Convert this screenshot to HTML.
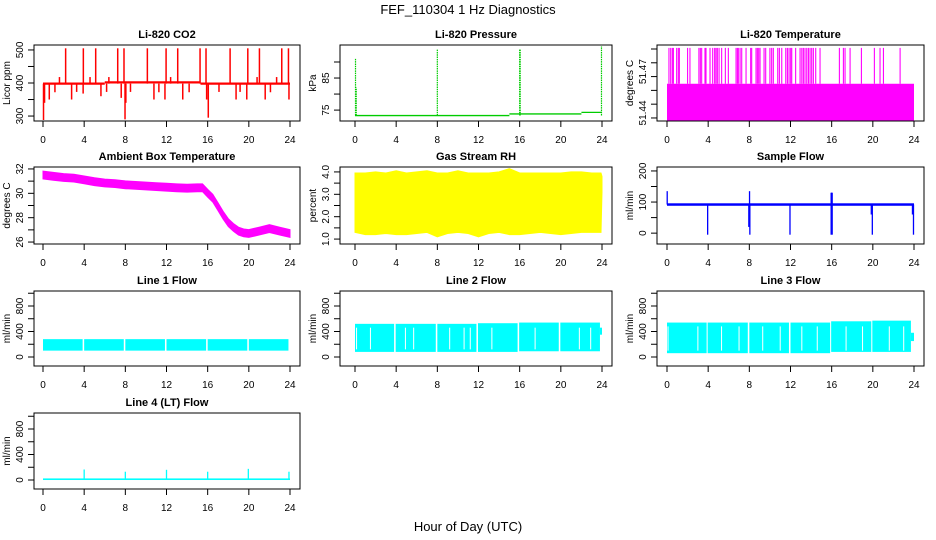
<!DOCTYPE html>
<html><head><meta charset="utf-8">
<style>
html,body{margin:0;padding:0;background:#fff;}
svg{display:block;font-family:"Liberation Sans",Arial,sans-serif;}
</style></head>
<body>
<svg id="chart" width="936" height="540" viewBox="0 0 936 540" xmlns="http://www.w3.org/2000/svg">
<text x="468" y="14" text-anchor="middle" font-size="13">FEF_110304  1 Hz Diagnostics</text>
<text x="468" y="531" text-anchor="middle" font-size="13">Hour of Day (UTC)</text>
</svg>
<script>
// ---------- data ----------
const xTicks=[0,4,8,12,16,20,24];
// CO2
const co2Base=[[0,6,398],[6,15.3,402],[15.3,24,398]];
const co2UpHours=[2.2,3.92,5.12,7.26,7.87,10.14,11.96,13.09,15.26,15.84,18.18,19.9,21.03,23.2,23.85];
const co2UpValue=505;
const co2SmallHours=[1.6,4.57,6.4,12.4,20.8,22.7];
const co2SmallValue=418;
const co2DownHours=[0.05,0.15,0.61,1.16,2.78,3.27,3.9,5.63,6.18,7.6,7.97,8.05,8.5,10.78,11.26,11.85,13.58,14.2,15.9,16.06,17.1,18.76,19.15,19.8,21.59,22.1,23.9];
const co2DownValues=[288,340,350,372,350,373,368,360,373,355,290,340,373,350,372,350,350,372,350,295,373,350,373,350,350,372,350];
// Pressure
const presBase=[[0,15,73.3],[15,22,73.8],[22,24,74.3]];
const presSpikeHours=[0.05,0.12,8.0,16.0,16.05,23.95];
const presSpikeValues=[91,82,94,94,94,95];
// Li-820 temperature
const tempBase=51.4378, tempTop=51.4648, tempSpikeValue=51.4908;
const tempSpikeHours=[0.19,0.36,0.52,0.62,0.94,1.1,1.2,2.0,2.23,3.1,3.24,3.37,3.69,3.79,4.18,4.44,4.63,4.76,4.89,5.06,5.31,5.67,5.96,6.71,6.84,6.93,7.1,7.26,7.68,8.13,8.23,8.65,8.78,8.91,9.04,9.43,9.59,10.0,10.17,10.33,10.76,10.92,11.15,11.54,11.7,11.86,12.02,12.12,12.5,12.93,13.1,13.25,13.41,13.58,13.74,13.9,14.06,14.22,14.45,14.87,16.75,17.14,17.3,17.79,18.89,20.15,20.7,21.03,22.65];
// Ambient box temperature
const ambHours=[0,1,2,3,4,5,6,7,8,9,10,11,12,13,14,15,15.5,16,16.5,17,17.5,18,18.5,19,19.5,20,21,22,23,24];
const ambMean=[31.5,31.4,31.3,31.25,31.1,30.95,30.85,30.8,30.7,30.65,30.6,30.55,30.5,30.45,30.42,30.45,30.45,30.0,29.6,28.9,28.2,27.6,27.2,26.9,26.75,26.7,26.9,27.1,26.9,26.7];
const ambSpread=0.32;
// Gas stream RH
const rhHours=[0,1,2,3,4,5,6,7,8,9,10,11,12,13,14,15,16,17,18,19,20,21,22,23,23.9,24];
const rhLow=[1.3,1.2,1.2,1.25,1.2,1.2,1.25,1.3,1.1,1.25,1.3,1.25,1.1,1.25,1.3,1.2,1.2,1.25,1.3,1.25,1.2,1.25,1.3,1.3,1.3,3.1];
const rhHigh=[3.95,3.95,4.0,3.95,4.05,3.95,4.0,4.05,3.95,3.95,4.05,3.95,3.95,3.95,4.0,4.15,3.95,3.95,3.95,3.95,3.95,4.0,4.0,3.95,3.95,3.8];
// Sample flow
const sfBase=[88,96];
const sfUpHours=[0.02,8.02,15.95,16.0,16.05];
const sfUpValues=[135,135,130,130,130];
const sfDownHours=[3.95,7.95,8.05,11.95,15.95,16.05,19.85,19.95,23.85,23.95];
const sfDownValues=[-5,20,-5,-5,-5,-5,60,-5,60,-5];
// Line flows: blocks [startHour,endHour,low,high]
const l1Blocks=[[0,3.85,100,280],[4.0,7.85,100,280],[8.0,11.85,100,280],[12.0,15.85,100,280],[16.0,19.85,100,280],[20.0,23.85,100,280]];
const l2Blocks=[[0,3.8,80,520],[3.95,7.85,80,520],[8.0,11.8,80,520],[11.95,15.8,80,530],[15.95,19.8,90,540],[19.95,23.8,90,540],[23.8,24,350,460]];
const l2Gaps=[0.15,1.5,4.9,5.7,9.2,10.6,11.2,13.3,17.5,21.8,22.9];
const l3Blocks=[[0,3.85,60,540],[3.95,7.85,60,540],[8.0,11.85,60,540],[12.0,15.85,60,540],[15.95,19.85,80,560],[19.95,23.7,80,570],[23.7,24,250,380]];
const l3Gaps=[0.1,3.0,5.3,7.0,9.3,11.0,13.1,14.6,17.4,19.0,21.6,23.0];
// Line 4
const l4Base=[0,25];
const l4SpikeHours=[4.0,8.0,12.0,16.0,19.95,23.9];
const l4SpikeValues=[165,130,160,130,175,130];

// ---------- layout ----------
const cols=[{l:34,r:300,x0:43,x24:290},{l:340,r:612,x0:355,x24:602},{l:657,r:924,x0:667,x24:914}];
const rows=[{t:45,b:121},{t:167,b:244},{t:291,b:366},{t:413,b:489}];
const NS="http://www.w3.org/2000/svg";
const svg=document.getElementById('chart');
function mk(tag,attrs,parent,text){const e=document.createElementNS(NS,tag);for(const k in attrs)e.setAttribute(k,attrs[k]);if(text!==undefined)e.textContent=text;(parent||svg).appendChild(e);return e;}

function panel(key,ci,ri,title,ylab,dom,ticks,labels,labelShift,fmt){
  const c=cols[ci],r=rows[ri];
  const g=mk('g',{});
  
  
  const sx=h=>c.x0+h/24*(c.x24-c.x0);
  const sy=v=>r.b-(v-dom[0])/(dom[1]-dom[0])*(r.b-r.t);
  const marks=mk('g',{},g);
  
  
  const box=mk('rect',{x:c.l,y:r.t,width:c.r-c.l,height:r.b-r.t,fill:'none',stroke:'#000','stroke-width':1},g);
  
  
  const t=mk('text',{x:(c.l+c.r)/2,y:r.t-7,'text-anchor':'middle','font-size':11,'font-weight':'bold'},g,title);
  
  
  const xa=mk('g',{},g);
  
  
  mk('line',{x1:sx(0),x2:sx(24),y1:r.b,y2:r.b,stroke:'#000'},xa);
  xTicks.forEach(h=>{
    mk('line',{x1:sx(h),x2:sx(h),y1:r.b,y2:r.b+6,stroke:'#000'},xa);
    const tl=mk('text',{x:sx(h),y:r.b+22,'text-anchor':'middle','font-size':10},xa,String(h));
    
    
  });
  const ya=mk('g',{},g);
  
  
  mk('line',{x1:c.l,x2:c.l,y1:sy(ticks[0]),y2:sy(ticks[ticks.length-1]),stroke:'#000'},ya);
  ticks.forEach(v=>mk('line',{x1:c.l-6,x2:c.l,y1:sy(v),y2:sy(v),stroke:'#000'},ya));
  labels.forEach(v=>{
    const yy=sy(v)-(labelShift||0), xx=c.l-11;
    const tl=mk('text',{x:xx,y:yy,'text-anchor':'middle','font-size':10,transform:`rotate(-90 ${xx} ${yy})`},ya,
      fmt?v.toFixed(fmt):String(v));
    
    
  });
  const yx=c.l-24, yy=(r.t+r.b)/2;
  const yl=mk('text',{x:yx,y:yy,'text-anchor':'middle','font-size':10,transform:`rotate(-90 ${yx} ${yy})`},g,ylab);
  
  
  return {g:marks,sx,sy};
}
function vline(p,h,v1,v2,col,w){return mk('line',{x1:p.sx(h),x2:p.sx(h),y1:p.sy(v1),y2:p.sy(v2),stroke:col,'stroke-width':w||1.2},p.g);}
function hseg(p,h1,h2,v,col,w){return mk('line',{x1:p.sx(h1),x2:p.sx(h2),y1:p.sy(v),y2:p.sy(v),stroke:col,'stroke-width':w||2},p.g);}
function rectv(p,h1,h2,lo,hi,col){return mk('rect',{x:p.sx(h1),y:p.sy(hi),width:p.sx(h2)-p.sx(h1),height:p.sy(lo)-p.sy(hi),fill:col},p.g);}

// CO2
(function(){
  const p=panel('co2',0,0,'Li-820 CO2','Licor ppm',[285,515],[300,350,400,450,500],[300,400,500]);
  const col='#ff0000';
  co2Base.forEach(b=>hseg(p,b[0],b[1],b[2],col,2.2));
  co2UpHours.forEach(h=>vline(p,h,398,co2UpValue,col,1.5));
  co2SmallHours.forEach(h=>vline(p,h,398,co2SmallValue,col,1.5));
  co2DownHours.forEach((h,i)=>vline(p,h,398,co2DownValues[i],col,1.5));
})();
// Pressure
(function(){
  const p=panel('pressure',1,0,'Li-820 Pressure','kPa',[71.6,95.3],[75,80,85,90],[75,85]);
  const col='#00cc00';
  presBase.forEach(b=>hseg(p,b[0],b[1],b[2],col,1.3));
  presSpikeHours.forEach((h,i)=>{const l=vline(p,h,73.3,presSpikeValues[i],col,1.2);l.setAttribute('stroke-dasharray','1.5 0.8');});
})();
// Li-820 temperature
(function(){
  const ticks=[51.44,51.45,51.46,51.47,51.48,51.49];
  const p=panel('li820-temp',2,0,'Li-820 Temperature','degrees C',[51.4378,51.4929],ticks,[51.44,51.47],5,2);
  const col='#ff00ff';
  rectv(p,0,24,tempBase,tempTop,col);
  tempSpikeHours.forEach(h=>vline(p,h,tempTop,tempSpikeValue,col,1.1));
})();
// Ambient
(function(){
  const p=panel('ambient-temp',0,1,'Ambient Box Temperature','degrees C',[25.84,32.16],[26,27,28,29,30,31,32],[26,28,30,32]);
  const col='#ff00ff';
  let d='';
  ambHours.forEach((h,i)=>{d+=(i?'L':'M')+p.sx(h).toFixed(1)+','+p.sy(ambMean[i]+ambSpread).toFixed(1);});
  for(let i=ambHours.length-1;i>=0;i--)d+='L'+p.sx(ambHours[i]).toFixed(1)+','+p.sy(ambMean[i]-ambSpread).toFixed(1);
  mk('path',{d:d+'Z',fill:col,stroke:col,'stroke-width':1},p.g);
})();
// RH
(function(){
  const p=panel('gas-rh',1,1,'Gas Stream RH','percent',[0.78,4.22],[1,1.5,2,2.5,3,3.5,4],[1,2,3,4],0,1);
  const col='#ffff00';
  let d='';
  rhHours.forEach((h,i)=>{d+=(i?'L':'M')+p.sx(h).toFixed(1)+','+p.sy(rhHigh[i]).toFixed(1);});
  for(let i=rhHours.length-1;i>=0;i--)d+='L'+p.sx(rhHours[i]).toFixed(1)+','+p.sy(rhLow[i]).toFixed(1);
  mk('path',{d:d+'Z',fill:col,stroke:col},p.g);
})();
// Sample flow
(function(){
  const p=panel('sample-flow',2,1,'Sample Flow','ml/min',[-34.9,212.7],[0,50,100,150,200],[0,100,200]);
  const col='#0000ff';
  rectv(p,0,24,sfBase[0],sfBase[1],col);
  sfUpHours.forEach((h,i)=>vline(p,h,92,sfUpValues[i],col,1.3));
  sfDownHours.forEach((h,i)=>vline(p,h,92,sfDownValues[i],col,1.3));
})();
// Lines 1-3
function linePanel(key,ci,title,blocks,gaps){
  const p=panel(key,ci,2,title,'ml/min',[-141,1035],[0,200,400,600,800,1000],[0,400,800]);
  const col='#00ffff';
  blocks.forEach(b=>rectv(p,b[0],b[1],b[2],b[3],col));
  (gaps||[]).forEach(h=>vline(p,h,blocks[0][2]+40,blocks[0][3]-60,'#ffffff',1));
}
linePanel('line1-flow',0,'Line 1 Flow',l1Blocks);
linePanel('line2-flow',1,'Line 2 Flow',l2Blocks,l2Gaps);
linePanel('line3-flow',2,'Line 3 Flow',l3Blocks,l3Gaps);
// Line 4
(function(){
  const p=panel('line4-flow',0,3,'Line 4 (LT) Flow','ml/min',[-141,1051],[0,200,400,600,800,1000],[0,400,800]);
  const col='#00ffff';
  rectv(p,0,24,l4Base[0],l4Base[1],col);
  l4SpikeHours.forEach((h,i)=>vline(p,h,10,l4SpikeValues[i],col,1.3));
})();
</script>
</body></html>
